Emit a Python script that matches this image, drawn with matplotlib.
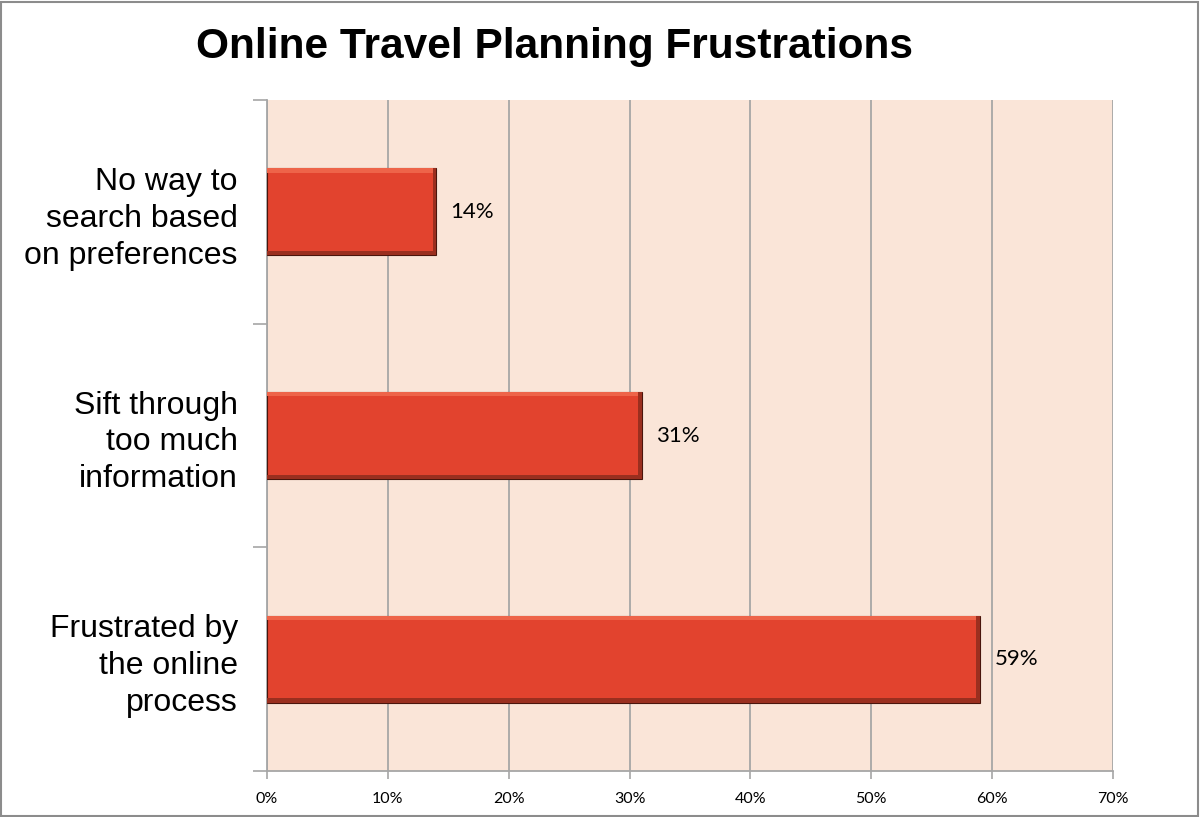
import matplotlib.pyplot as plt
from matplotlib.ticker import FuncFormatter

categories = ["No way to\nsearch based\non preferences",
              "Sift through\ntoo much\ninformation",
              "Frustrated by\nthe online\nprocess"]
values = [14, 31, 59]
value_labels = ["14%", "31%", "59%"]
x_ticks = [0, 10, 20, 30, 40, 50, 60, 70]

bar_color = "#E2432E"
light = "#EE6449"
dark = "#9A2F1F"
bg = "#FAE5D8"
grid_c = "#A6A6A6"

fig = plt.figure(figsize=(12, 8.17), dpi=100)
ax = fig.add_axes([0.2225, 0.0563, 0.705, 0.8213])
ax.set_facecolor(bg)

pos = [len(categories) - 1 - i for i in range(len(categories))]
h = 0.39
s = 0.02
sx = 0.3

ax.barh(pos, values, height=h, color=bar_color, edgecolor="#4A150C", linewidth=0.8, zorder=3)
# bevel: light top strip, dark bottom and right strips
ax.barh([p + h / 2 - s / 2 for p in pos], [v - sx for v in values], height=s,
        color=light, linewidth=0, zorder=4)
ax.barh([p - h / 2 + s / 2 for p in pos], values, height=s,
        color=dark, linewidth=0, zorder=4)
ax.barh(pos, [sx] * len(values), left=[v - sx for v in values], height=h,
        color=dark, linewidth=0, zorder=4)

for p, v, lab in zip(pos, values, value_labels):
    ax.text(v + 1.2, p, lab, va="center", ha="left", fontsize=16,
            family="Lato", color="black", zorder=5)

ax.set_xlim(0, 70)
ax.set_ylim(-0.5, len(categories) - 0.5)
ax.set_xticks(x_ticks)
ax.xaxis.set_major_formatter(FuncFormatter(lambda x, _: "%d%%" % x))
for t in ax.get_xticklabels():
    t.set_family("Lato")
    t.set_fontsize(11.5)
ax.tick_params(axis="x", length=6, width=1.2, color=grid_c, pad=9)

ax.set_yticks(pos)
ax.set_yticklabels(categories, fontsize=23, family="Liberation Sans",
                   multialignment="right", linespacing=1.3)
ax.set_yticks([p + 0.5 for p in range(-1, len(categories))], minor=True)
ax.tick_params(axis="y", which="major", length=0, pad=21)
ax.tick_params(axis="y", which="minor", length=10, width=1.2, color=grid_c)

ax.grid(axis="x", color=grid_c, linewidth=1.3, zorder=1)
ax.set_axisbelow(True)
for side in ["top", "right"]:
    ax.spines[side].set_visible(False)
for side in ["left", "bottom"]:
    ax.spines[side].set_color(grid_c)
    ax.spines[side].set_linewidth(1.3)

fig.text(0.4625, 0.942, "Online Travel Planning Frustrations", ha="center", va="center",
         fontsize=30.5, fontweight="bold", family="Liberation Sans")

fig.patches.append(plt.Rectangle((0.001, 0.001), 0.997, 0.997, transform=fig.transFigure,
                                 fill=False, edgecolor="#8C8C8C", linewidth=1.5))

fig.savefig("out.png", dpi=100)
